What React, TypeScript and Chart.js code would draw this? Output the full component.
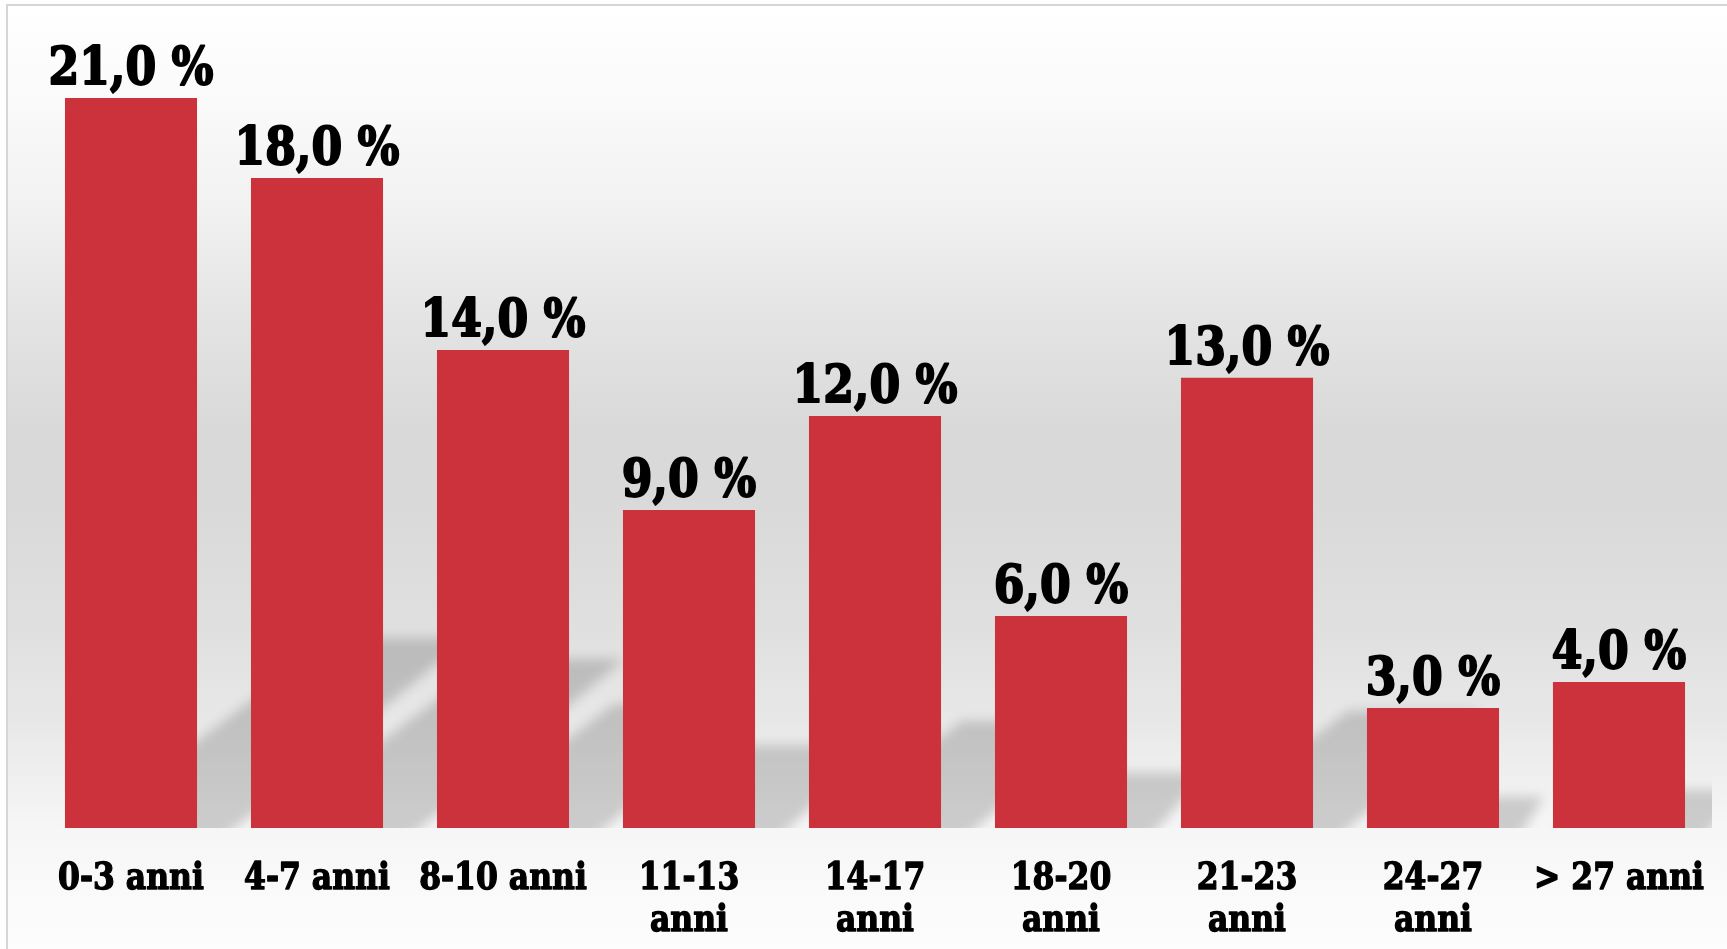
import React, { useEffect, useRef } from "react";
import { Chart, registerables } from "chart.js";

Chart.register(...registerables);

// ---- data ----
const categories: (string | string[])[] = [
  "0-3 anni",
  "4-7 anni",
  "8-10 anni",
  ["11-13", "anni"],
  ["14-17", "anni"],
  ["18-20", "anni"],
  ["21-23", "anni"],
  ["24-27", "anni"],
  "> 27 anni",
];
// bar heights as drawn in the picture (percent)
const barValues = [21.0, 18.7, 13.75, 9.15, 11.85, 6.1, 12.95, 3.45, 4.2];
// values printed above the bars (percent)
const labelValues = [21, 18, 14, 9, 12, 6, 13, 3, 4];
const yMax = 21;

const BAR_COLOR = "#cc323b";
const FONT_FAMILY = '"DejaVu Serif", "Liberation Serif", serif';

const fmt = (v: number) => v.toFixed(1).replace(".", ",") + " %";

const drawHeavyText = (ctx: any, text: string, x: number, y: number, squeeze: number, stroke: number) => {
  ctx.save();
  ctx.translate(x, y);
  ctx.scale(squeeze, 1);
  ctx.lineJoin = "round";
  ctx.lineWidth = stroke;
  ctx.strokeStyle = "#000000";
  ctx.strokeText(text, 0, 0);
  ctx.fillText(text, 0, 0);
  ctx.restore();
};

const backgroundPlugin = {
  id: "bgPlugin",
  beforeDraw(chart: any) {
    const { ctx, width, height } = chart;
    ctx.save();
    ctx.fillStyle = "#ffffff";
    ctx.fillRect(0, 0, width, height);
    const g = ctx.createLinearGradient(0, 5, 0, height);
    g.addColorStop(0, "#ffffff");
    g.addColorStop(0.1, "#fafafa");
    g.addColorStop(0.22, "#f1f1f1");
    g.addColorStop(0.33, "#e4e4e4");
    g.addColorStop(0.45, "#d9d9d9");
    g.addColorStop(0.52, "#d9d9d9");
    g.addColorStop(0.65, "#dfdfdf");
    g.addColorStop(0.76, "#e8e8e8");
    g.addColorStop(0.87, "#f6f6f6");
    g.addColorStop(1, "#fdfdfd");
    ctx.fillStyle = g;
    ctx.fillRect(8, 6, width - 8, height - 6);
    ctx.strokeStyle = "#d6d6d6";
    ctx.lineWidth = 2;
    ctx.beginPath();
    ctx.moveTo(7, height);
    ctx.lineTo(7, 5);
    ctx.lineTo(width, 5);
    ctx.stroke();
    ctx.restore();
  },
  beforeDatasetsDraw(chart: any) {
    const { ctx, chartArea } = chart;
    const meta = chart.getDatasetMeta(0);
    ctx.save();
    ctx.beginPath();
    ctx.rect(chartArea.left, chartArea.top - 200, chartArea.right - chartArea.left, chartArea.bottom - chartArea.top + 200);
    ctx.clip();
    ctx.filter = "blur(6px)";
    ctx.fillStyle = "rgba(0,0,0,0.17)";
    ctx.beginPath();
    meta.data.forEach((bar: any) => {
      const w = bar.width;
      const x0 = bar.x - w / 2;
      const x1 = bar.x + w / 2;
      const base = bar.base;
      const h = base - bar.y;
      const sh = h * 0.26;
      const dx = sh / 0.7;
      ctx.moveTo(x0 - 14, base + 20);
      ctx.lineTo(x1 + 14, base + 20);
      ctx.lineTo(x1 + dx, base - sh);
      ctx.lineTo(x0 + dx, base - sh);
      ctx.closePath();
    });
    ctx.fill();
    ctx.restore();
  },
  afterDatasetsDraw(chart: any) {
    const { ctx, chartArea } = chart;
    const meta = chart.getDatasetMeta(0);
    const xScale = chart.scales.x;
    ctx.save();
    ctx.fillStyle = "#000000";
    ctx.textAlign = "center";
    ctx.textBaseline = "alphabetic";
    // value labels
    ctx.font = `bold 52px ${FONT_FAMILY}`;
    meta.data.forEach((bar: any, i: number) => {
      drawHeavyText(ctx, fmt(labelValues[i]), bar.x, bar.y - 14, 0.85, 2);
    });
    // category labels
    ctx.font = `bold 37px ${FONT_FAMILY}`;
    categories.forEach((c, i) => {
      const lines = Array.isArray(c) ? c : [c];
      const x = xScale.getPixelForValue(i);
      lines.forEach((line, j) => {
        drawHeavyText(ctx, line, x, chartArea.bottom + 61 + j * 42, 0.85, 1.4);
      });
    });
    ctx.restore();
  },
};

export default function App() {
  const canvasRef = useRef<HTMLCanvasElement | null>(null);

  useEffect(() => {
    document.body.style.margin = "0";
    const canvas = canvasRef.current;
    if (!canvas) return;
    const chart = new Chart(canvas, {
      type: "bar",
      data: {
        labels: categories as any,
        datasets: [
          {
            data: barValues,
            backgroundColor: BAR_COLOR,
            borderWidth: 0,
            categoryPercentage: 1,
            barPercentage: 0.71,
          },
        ],
      },
      options: {
        animation: false,
        responsive: false,
        devicePixelRatio: 1,
        layout: { padding: { left: 38, right: 15, top: 98, bottom: 121 } },
        plugins: {
          legend: { display: false },
          tooltip: { enabled: false },
          title: { display: false },
        },
        scales: {
          x: { display: false },
          y: { display: false, min: 0, max: yMax },
        },
      },
      plugins: [backgroundPlugin],
    });
    return () => chart.destroy();
  }, []);

  return (
    <div style={{ position: "fixed", left: 0, top: 0, width: 1727, height: 949 }}>
      <canvas ref={canvasRef} width={1727} height={949} style={{ display: "block" }} />
    </div>
  );
}
